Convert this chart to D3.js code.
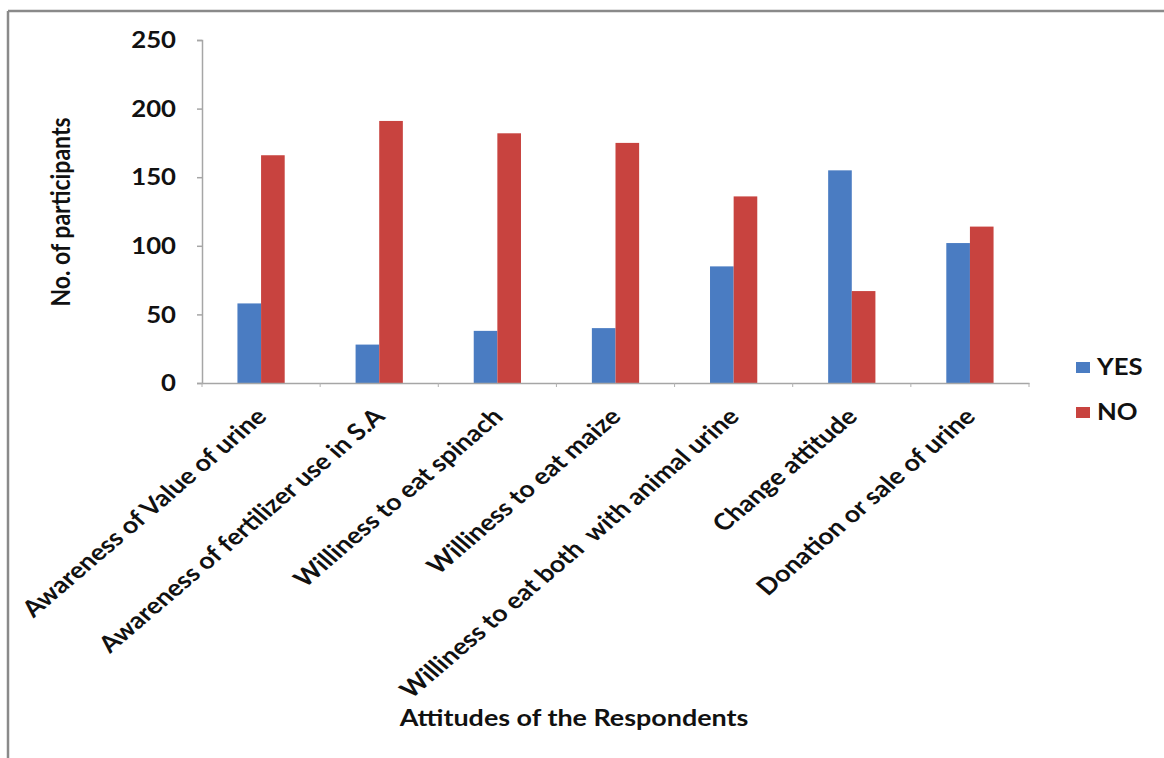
<!DOCTYPE html>
<html><head><meta charset="utf-8">
<script src="https://cdn.jsdelivr.net/npm/d3@7"></script>
<style>html,body{margin:0;padding:0;background:#fff;} text{white-space:pre;}</style>
</head><body>
<svg id="chart" width="1164" height="758"></svg>
<script>
const categories = [
  "Awareness of Value of urine",
  "Awareness of fertilizer use in S.A",
  "Williness to eat spinach",
  "Williness to eat maize",
  "Williness to eat both  with animal urine",
  "Change attitude",
  "Donation or sale of urine"
];
const seriesNames = ["YES", "NO"];
const yesValues = [58, 28, 38, 40, 85, 155, 102];
const noValues  = [166, 191, 182, 175, 136, 67, 114];
const yTicks = [0, 50, 100, 150, 200, 250];
const colors = ["#4a7cc2", "#c8433f"];
const xTitle = "Attitudes of the Respondents";
const yTitle = "No. of participants";

const data = categories.map((c, i) => ({cat: c, values: [yesValues[i], noValues[i]]}));

const svg = d3.select("#chart");
const FONT = "Lato, 'Open Sans', sans-serif";
const SX = 1.17; // horizontal text stretch
const FS = 23;

// outer border
svg.append("line").attr("x1", 8).attr("y1", 11).attr("x2", 1164).attr("y2", 11).attr("stroke", "#8a8a8a").attr("stroke-width", 2.5);
svg.append("line").attr("x1", 8).attr("y1", 11).attr("x2", 8).attr("y2", 758).attr("stroke", "#8a8a8a").attr("stroke-width", 2.5);

const pL = 202, pR = 1029, pT = 40, pB = 383;

const x0 = d3.scaleBand().domain(categories).range([pL, pR]).paddingInner(0.6).paddingOuter(0.3);
const x1 = d3.scaleBand().domain(seriesNames).range([0, x0.bandwidth()]);
const y = d3.scaleLinear().domain([0, 250]).range([pB, pT]);

// y axis
const yAxis = d3.axisLeft(y).tickValues(yTicks).tickSize(5).tickFormat(d3.format("d"));
const gy = svg.append("g").attr("transform", `translate(${pL},0)`).call(yAxis);
gy.select(".domain").attr("stroke", "#a6a6a6").attr("stroke-width", 1.5);
gy.selectAll(".tick line").attr("stroke", "#a6a6a6").attr("stroke-width", 1.5);
gy.selectAll(".tick text").remove();
gy.selectAll(".tick").append("text")
  .attr("transform", `translate(-26,0) scale(${SX},1)`)
  .attr("text-anchor", "end").attr("dy", "0.35em")
  .attr("font-family", FONT).attr("font-weight", "bold").attr("font-size", FS - 1)
  .attr("fill", "#111")
  .text(d => d);

// bars
const groups = svg.append("g").selectAll("g").data(data).join("g")
  .attr("transform", d => `translate(${x0(d.cat)},0)`);
groups.selectAll("rect").data(d => d.values.map((v, j) => ({v, s: seriesNames[j], j})))
  .join("rect")
  .attr("x", d => x1(d.s)).attr("width", x1.bandwidth())
  .attr("y", d => y(d.v)).attr("height", d => y(0) - y(d.v))
  .attr("fill", d => colors[d.j]);

// x axis
const xAxis = d3.axisBottom(x0).tickSize(0).tickFormat("");
const gx = svg.append("g").attr("transform", `translate(0,${pB})`).call(xAxis);
gx.select(".domain").attr("stroke", "#a6a6a6").attr("stroke-width", 1.5);
const step = x0.step();
const bounds = d3.range(categories.length + 1).map(i => pL + i * step);
gx.selectAll("line.b").data(bounds).join("line").attr("class", "b")
  .attr("x1", d => d).attr("x2", d => d).attr("y1", 0).attr("y2", 4)
  .attr("stroke", "#b0b0b0").attr("stroke-width", 1);

// x labels
svg.append("g").selectAll("text").data(categories).join("text")
  .attr("transform", d => `translate(${x0(d) + x0.bandwidth() / 2 + 7},418) scale(${SX},1) rotate(-45)`)
  .attr("text-anchor", "end")
  .attr("font-family", FONT).attr("font-weight", "bold").attr("font-size", FS)
  .attr("fill", "#111")
  .text(d => d);

// axis titles
svg.append("text")
  .attr("transform", `translate(574,726) scale(${SX},1)`)
  .attr("text-anchor", "middle")
  .attr("font-family", FONT).attr("font-weight", "bold").attr("font-size", FS)
  .attr("fill", "#111").text(xTitle);
svg.append("text")
  .attr("transform", `translate(70,212) scale(${SX},1) rotate(-90)`)
  .attr("text-anchor", "middle")
  .attr("font-family", FONT).attr("font-weight", "bold").attr("font-size", FS)
  .attr("fill", "#111").text(yTitle);

// legend
const leg = svg.append("g").selectAll("g").data(seriesNames).join("g")
  .attr("transform", (d, i) => `translate(1076,${362 + i * 45})`);
leg.append("rect").attr("width", 14).attr("height", 11).attr("fill", (d, i) => colors[i]);
leg.append("text").attr("transform", `translate(21,13) scale(${SX},1)`)
  .attr("font-family", FONT).attr("font-weight", "bold").attr("font-size", FS - 1)
  .attr("fill", "#111").text(d => d);
</script>
</body></html>
